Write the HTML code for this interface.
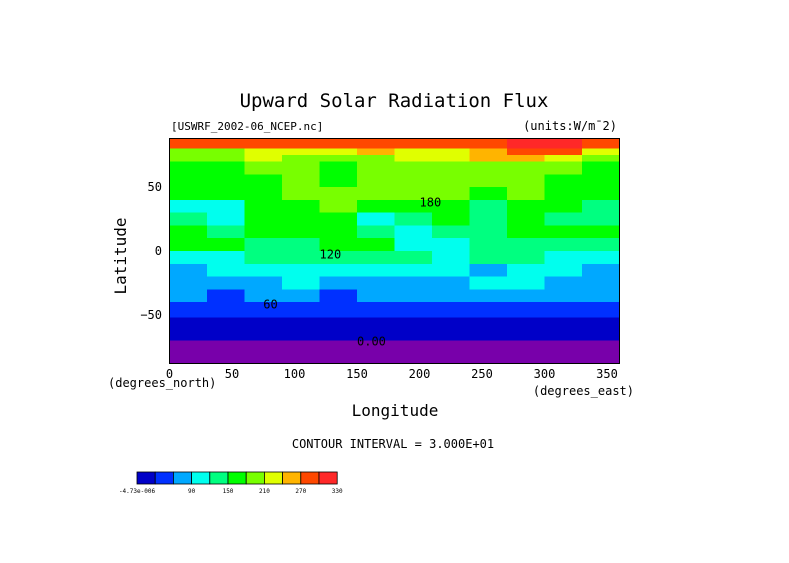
<!DOCTYPE html>
<html><head><meta charset="utf-8"><style>
body{margin:0;background:#fff;font-family:"Liberation Sans",sans-serif}
svg text{font-family:"DejaVu Sans Mono","Liberation Mono",monospace}
</style></head><body>
<svg width="789" height="558" viewBox="0 0 789 558" xmlns="http://www.w3.org/2000/svg">
<rect width="789" height="558" fill="#fff"/>
<text x="394" y="107" text-anchor="middle" font-size="19">Upward Solar Radiation Flux</text>
<text x="171" y="130" font-size="11">[USWRF_2002-06_NCEP.nc]</text>
<text x="617" y="130" font-size="12" text-anchor="end">(units:W/m¯2)</text>
<g id="map"></g>
<rect x="169.5" y="138.5" width="450" height="225" fill="none" stroke="#000"/>
<g id="axes"></g>
<text x="120" y="250" font-size="16" text-anchor="middle" transform="rotate(-90 126 250)">Latitude</text>
<text x="108" y="387" font-size="12">(degrees_north)</text>
<text x="634" y="395" font-size="12" text-anchor="end">(degrees_east)</text>
<text x="395" y="416" font-size="16" text-anchor="middle">Longitude</text>
<text x="393" y="448" font-size="12" text-anchor="middle">CONTOUR INTERVAL = 3.000E+01</text>
<g id="cbar"></g>
</svg>
<script>
const lonCenters=[15,45,75,105,135,165,195,225,255,285,315,345];
const latTops=[90,80,75,70,60,50,40,30,20,10,0,-10,-20,-30,-40,-52,-60,-70];
const latBots=[80,75,70,60,50,40,30,20,10,0,-10,-20,-30,-40,-52,-60,-70,-90];
const grid=[
[280,280,280,280,280,280,280,280,280,300,300,280],
[190,200,230,220,230,240,220,230,250,290,270,220],
[180,190,210,200,190,200,210,220,250,250,230,190],
[160,170,180,180,170,180,190,190,190,200,190,170],
[150,160,170,180,170,190,190,190,180,180,170,170],
[150,160,170,180,180,190,190,180,160,180,170,160],
[110,110,150,170,180,170,160,160,120,160,160,140],
[130,110,160,170,150,110,140,160,120,150,140,120],
[150,140,150,160,160,120,110,120,140,160,150,150],
[150,150,140,140,170,150,110,110,130,140,140,140],
[100,110,130,120,130,130,120,100,120,120,110,100],
[80,90,100,100,90,100,100,100,80,90,90,80],
[80,70,80,100,60,80,80,80,90,100,80,80],
[60,50,70,70,50,70,70,70,70,70,60,70],
[40,40,40,40,40,40,40,40,40,40,40,40],
[20,20,20,20,20,20,20,20,20,20,20,20],
[20,20,20,20,20,20,20,20,20,20,20,20],
[-10,-10,-10,-10,-10,-10,-10,-10,-10,-10,-10,-10]];
const levels=[0,30,60,90,120,150,180,210,240,270,300,330];
const colors=["#0000c8","#0030ff","#00a8ff","#00ffee","#00ff80","#00ff00","#78ff00","#e0ff00","#ffb400","#ff4800","#ff2828"];
const xTicks=[0,50,100,150,200,250,300,350];
const yTicks=[50,0,-50];
const cbarLabels=["-4.73e-006","90","150","210","270","330"];
const cbarLabelIdx=[0,3,5,7,9,11];
const X0=169.5,X1=619.5,Y0=138.5,Y1=363.5;
const xs=l=>X0+(l/360)*(X1-X0);
const ys=la=>Y0+((88-la)/176)*(Y1-Y0);
function col(v){if(v<0)return "#7800aa";for(let i=0;i<colors.length;i++)if(v<levels[i+1])return colors[i];return colors[colors.length-1];}
const NS="http://www.w3.org/2000/svg";
const map=document.getElementById('map');
grid.forEach((row,r)=>row.forEach((v,c)=>{
 const e=document.createElementNS(NS,'rect');
 const a=Math.min(latTops[r],88),b=Math.max(latBots[r],-88);
 const x=xs(lonCenters[c]-15),y=ys(a);
 e.setAttribute('x',x);e.setAttribute('y',y);
 e.setAttribute('width',xs(lonCenters[c]+15)-x);e.setAttribute('height',ys(b)-y);
 e.setAttribute('fill',col(v));e.setAttribute('shape-rendering','crispEdges');
 
 
 map.appendChild(e);
}));
[[60,75,-45],[0.00,150,-74],[120,120,-6],[180,200,35]].forEach(l=>{
 const t=document.createElementNS(NS,'text');
 t.setAttribute('x',xs(l[1]));t.setAttribute('y',ys(l[2]));t.setAttribute('font-size','12');
 t.textContent=l[0]===0?"0.00":String(l[0]);
 
 
 map.appendChild(t);
});
const ax=document.getElementById('axes');
xTicks.forEach(v=>{
 const t=document.createElementNS(NS,'text');
 t.setAttribute('x',xs(v));t.setAttribute('y',378);t.setAttribute('font-size','12');t.setAttribute('text-anchor','middle');
 t.textContent=v;
 
 
 ax.appendChild(t);
});
yTicks.forEach(v=>{
 const t=document.createElementNS(NS,'text');
 t.setAttribute('x',162);t.setAttribute('y',ys(v)+4);t.setAttribute('font-size','12');t.setAttribute('text-anchor','end');
 t.textContent=v<0?'\u2212'+(-v):v;
 
 
 ax.appendChild(t);
});
const cb=document.getElementById('cbar');
const cx=137,cw=18.2;
colors.forEach((c,i)=>{
 const e=document.createElementNS(NS,'rect');
 e.setAttribute('x',cx+i*cw);e.setAttribute('y',472);e.setAttribute('width',cw);e.setAttribute('height',12);
 e.setAttribute('fill',c);e.setAttribute('stroke','#000');e.setAttribute('stroke-width','0.8');
 
 
 cb.appendChild(e);
});
cbarLabels.forEach((s,i)=>{
 const t=document.createElementNS(NS,'text');
 t.setAttribute('x',cx+cbarLabelIdx[i]*cw);t.setAttribute('y',493);t.setAttribute('font-size','6');t.setAttribute('text-anchor','middle');
 t.textContent=s;
 
 
 cb.appendChild(t);
});
</script>
</body></html>
